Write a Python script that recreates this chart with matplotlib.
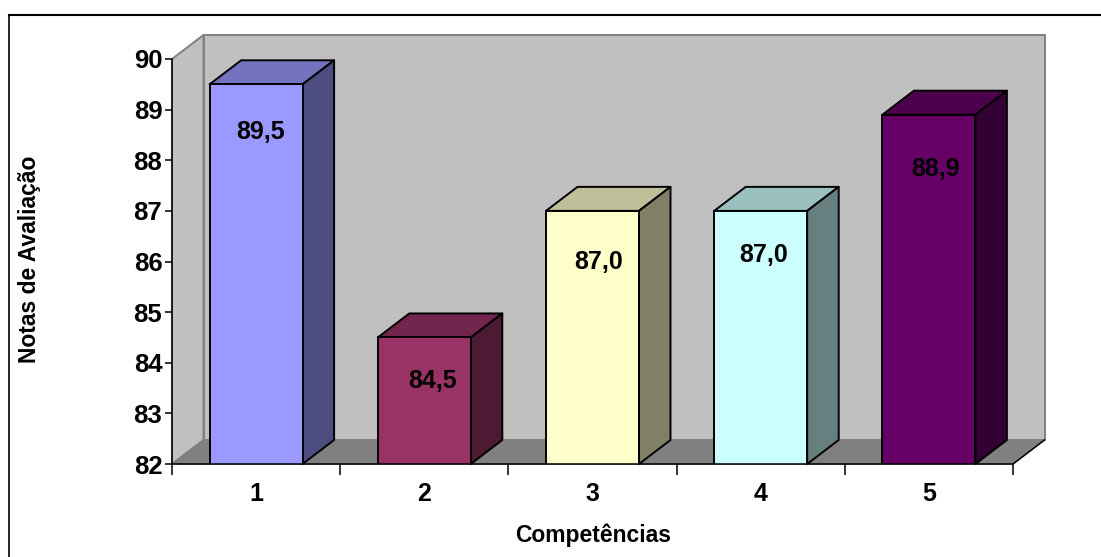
import matplotlib
matplotlib.use("Agg")
import matplotlib.pyplot as plt
from matplotlib.lines import Line2D
from matplotlib.patches import Polygon
from matplotlib.colors import to_rgb

competencias = ["1", "2", "3", "4", "5"]
notas = [89.5, 84.5, 87.0, 87.0, 88.9]
rotulos = ["89,5", "84,5", "87,0", "87,0", "88,9"]
cores = ["#9999FF", "#993366", "#FFFFCC", "#CCFFFF", "#660066"]
marcas_y = [82, 83, 84, 85, 86, 87, 88, 89, 90]

plt.rcParams["font.family"] = ["Liberation Sans", "DejaVu Sans"]
plt.rcParams["font.weight"] = "bold"

L, A = 1101, 557
fig = plt.figure(figsize=(L / 100, A / 100), dpi=100)

# eixos no plano da frente do grafico
x0, x1, y0, y1 = 172, 1013, 59, 464
ax = fig.add_axes([x0 / L, 1 - y1 / A, (x1 - x0) / L, (y1 - y0) / A])
ax.set_xlim(0.5, 5.5)
ax.set_ylim(82, 90)
ax.patch.set_visible(False)

# profundidade do efeito 3D, em unidades dos eixos
dx = 31.5 / ((x1 - x0) / 5)
dy = 24.0 / ((y1 - y0) / 8)
larg = 93.0 / ((x1 - x0) / 5)


def poli(pts, cor, borda, lw=1.1, z=1):
    ax.add_patch(Polygon(pts, closed=True, facecolor=cor, edgecolor=borda,
                         linewidth=lw, clip_on=False, zorder=z, joinstyle="round"))


def escurece(cor, f):
    return tuple(c * f for c in to_rgb(cor))


xa, xb = 0.5, 5.5
ya, yb = 82, 90
cinza = "#808080"

# paredes e piso
poli([(xa + dx, ya + dy), (xb + dx, ya + dy), (xb + dx, yb + dy), (xa + dx, yb + dy)], "#C0C0C0", cinza, 1.4, 1)
poli([(xa, ya), (xa + dx, ya + dy), (xa + dx, yb + dy), (xa, yb)], "#C0C0C0", cinza, 1.4, 1)
poli([(xa, ya), (xb, ya), (xb + dx, ya + dy), (xa + dx, ya + dy)], cinza, cinza, 1.0, 2)
ax.plot([xb, xb + dx], [ya, ya + dy], color="black", lw=1.1, clip_on=False, zorder=3)

# barras: frente, topo e lateral
pos = list(range(1, len(notas) + 1))
ax.bar(pos, notas, width=larg, bottom=0, color=cores, edgecolor="black", linewidth=1.4, zorder=6)
for p, v, cor in zip(pos, notas, cores):
    e, d = p - larg / 2, p + larg / 2
    poli([(e, v), (d, v), (d + dx, v + dy), (e + dx, v + dy)], escurece(cor, 0.75), "black", 1.4, 5)
    poli([(d, ya), (d + dx, ya + dy), (d + dx, v + dy), (d, v)], escurece(cor, 0.5), "black", 1.4, 5)

# rotulos de valor
desl_x = [0.024, 0.048, 0.036, 0.018, 0.042]
desl_y = [-0.94, -0.87, -1.01, -0.87, -1.07]
for p, v, r, ex, ey in zip(pos, notas, rotulos, desl_x, desl_y):
    ax.text(p + ex, v + ey, r, ha="center", va="center", fontsize=18, color="black", zorder=8)

for lado in ["top", "right"]:
    ax.spines[lado].set_visible(False)
ax.spines["left"].set_linewidth(1.1)
ax.spines["bottom"].set_linewidth(1.1)
ax.spines["left"].set_zorder(7)
ax.spines["bottom"].set_zorder(7)

ax.set_yticks(marcas_y)
ax.set_xticks([0.5, 1.5, 2.5, 3.5, 4.5, 5.5])
ax.set_xticklabels([])
ax.set_xticks(pos, competencias, minor=True)
ax.tick_params(axis="y", length=5, width=1.1, pad=2, labelsize=18.5)
ax.tick_params(axis="x", which="major", length=8, width=1.1)
ax.tick_params(axis="x", which="minor", length=0, pad=13, labelsize=18)

fig.text(593 / L, 1 - 535 / A, "Competências", ha="center", va="center", fontsize=16.5)
fig.text(30 / L, 1 - 259 / A, "Notas de Avaliação", ha="center", va="center", rotation=90, fontsize=16.5)

# moldura do grafico (so topo e esquerda)
fig.add_artist(Line2D([9 / L, 1], [1 - 15 / A, 1 - 15 / A], color="black", lw=1.5))
fig.add_artist(Line2D([9 / L, 9 / L], [1 - 15 / A, 0], color="black", lw=1.2))

fig.savefig("out.png", dpi=100)
